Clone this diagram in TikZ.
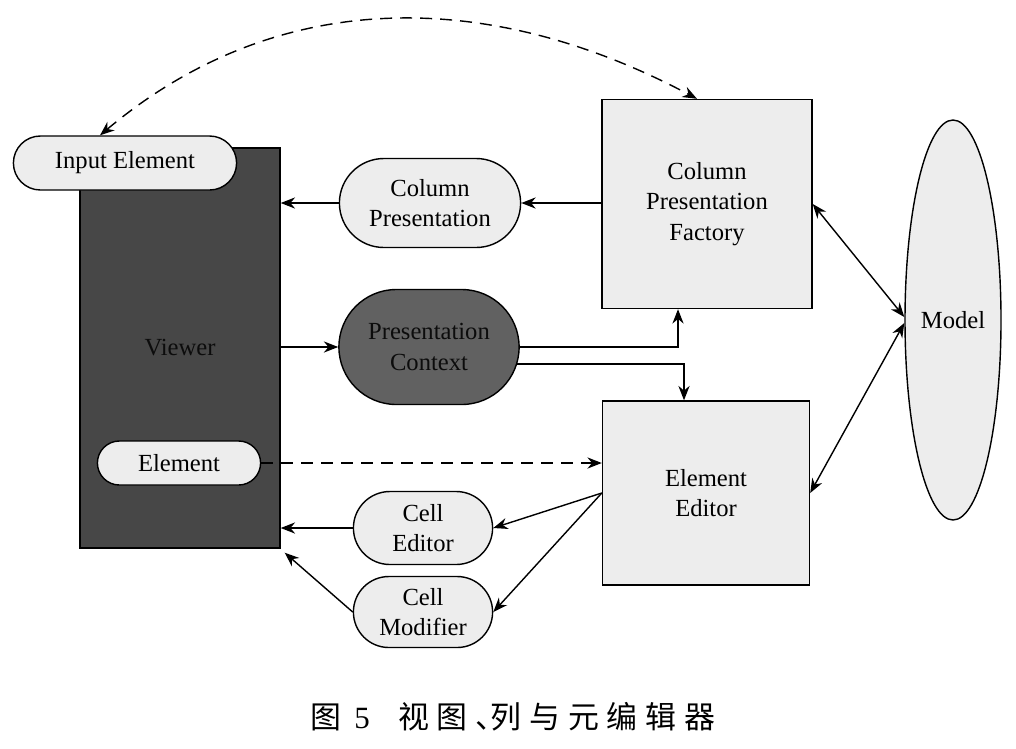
\documentclass[tikz,border=0pt]{standalone}
\usepackage{fontspec}
\setmainfont{Liberation Serif}
\newfontfamily\cjk[LetterSpace=25]{Noto Sans CJK SC}
\usepackage{tikz}
\usetikzlibrary{arrows.meta, shapes.geometric, shapes.misc}
\definecolor{lightfill}{gray}{0.93}
\definecolor{viewerfill}{gray}{0.28}
\definecolor{ctxfill}{gray}{0.38}
\definecolor{darktext}{RGB}{12,12,12}
\newcommand{\dgfont}{\fontsize{17.5}{21.5}\selectfont}
\tikzset{
  % a square component box
  box/.style    = {draw, line width=1pt, fill=lightfill, align=center,
                   font=\dgfont, inner sep=1pt},
  % a rounded helper object
  pill/.style   = {draw, line width=1pt, fill=lightfill, rounded rectangle,
                   align=center, font=\dgfont, inner sep=1pt},
  % the dark viewer block
  viewer/.style = {draw, line width=1pt, fill=viewerfill, text=darktext, font=\dgfont,
                   minimum width=50mm, minimum height=100mm},
  % the model
  mdl/.style    = {draw, line width=1pt, fill=lightfill, ellipse, inner sep=0pt,
                   font=\dgfont, minimum width=24mm, minimum height=100mm},
  % a call
  tr/.style     = {-{Stealth[length=3.6mm,width=2.8mm]}, line width=1pt},
  % a two-way link
  both/.style   = {{Stealth[length=3.6mm,width=2.8mm]}-{Stealth[length=3.6mm,width=2.8mm]},
                   line width=1pt},
  % a dashed reference
  dashln/.style = {dash pattern=on 3mm off 2mm},
}

\begin{document}
\begin{tikzpicture}[x=0.25mm, y=0.25mm]
  \useasboundingbox (0,0) rectangle (1016,-748);
  % the viewer and its parts
  \node[viewer] (viewer) at (180,-348) {Viewer};
  \node[pill, minimum width=56.5mm, minimum height=13.5mm] (inel) at (125,-163) {Input Element};
  \node[pill, minimum width=41.5mm, minimum height=11mm]   (el)   at (179,-463) {Element};
  % middle column
  \node[pill, minimum width=46mm, minimum height=22.25mm] (cp) at (430,-203) {Column\\Presentation};
  \node[pill, fill=ctxfill, text=darktext, minimum width=45.75mm, minimum height=28.75mm]
        (pc) at (429,-347) {Presentation\\Context};
  \node[pill, minimum width=35.5mm, minimum height=18.25mm] (ce) at (423,-528) {Cell\\Editor};
  \node[pill, minimum width=35.5mm, minimum height=17.75mm] (cm) at (423,-612) {Cell\\Modifier};
  % right column
  \node[box, minimum width=52.5mm, minimum height=52.25mm] (cpf) at (707,-204)
        {Column\\Presentation\\Factory};
  \node[box, minimum width=51.75mm, minimum height=46mm] (ee) at (706,-493) {Element\\Editor};
  \node[mdl] (model) at (953,-320) {Model};
  % connectors
  \draw[both, dashln] ([xshift=-6.25mm]inel.north) to[out=40,in=152] ([xshift=-2.5mm]cpf.north);
  \draw[tr] (cpf.west |- cp.east) -- (cp.east);
  \draw[tr] (cp.west) -- (cp.west -| viewer.east);
  \draw[tr] (viewer.east |- pc.west) -- (pc.west);
  \draw[tr] (pc.east) -| ([xshift=-7.25mm]cpf.south);
  \draw[tr] (pc.-11) -| ([xshift=-5.5mm]ee.north);
  \draw[tr, dashln] (el.east) -- (el.east -| ee.west);
  \draw[tr] (ee.west) -- (ce.east);
  \draw[tr] (ee.west) -- (cm.east);
  \draw[tr] (ce.west) -- (ce.west -| viewer.east);
  \draw[tr] (cm.west) -- ([shift={(1mm,-1mm)}]viewer.south east);
  \draw[both] (cpf.east) -- ([yshift=0.75mm]model.west);
  \draw[both] (ee.east) -- ([yshift=-0.75mm]model.west);
  % caption
  \node[font=\fontsize{22}{26}\selectfont] (cap) at (513,-717)
        {\cjk 图\hspace{9pt}{\rmfamily 5}\hspace{20pt}视图、\hspace{-11pt}列与元编辑器};
\end{tikzpicture}
\end{document}
